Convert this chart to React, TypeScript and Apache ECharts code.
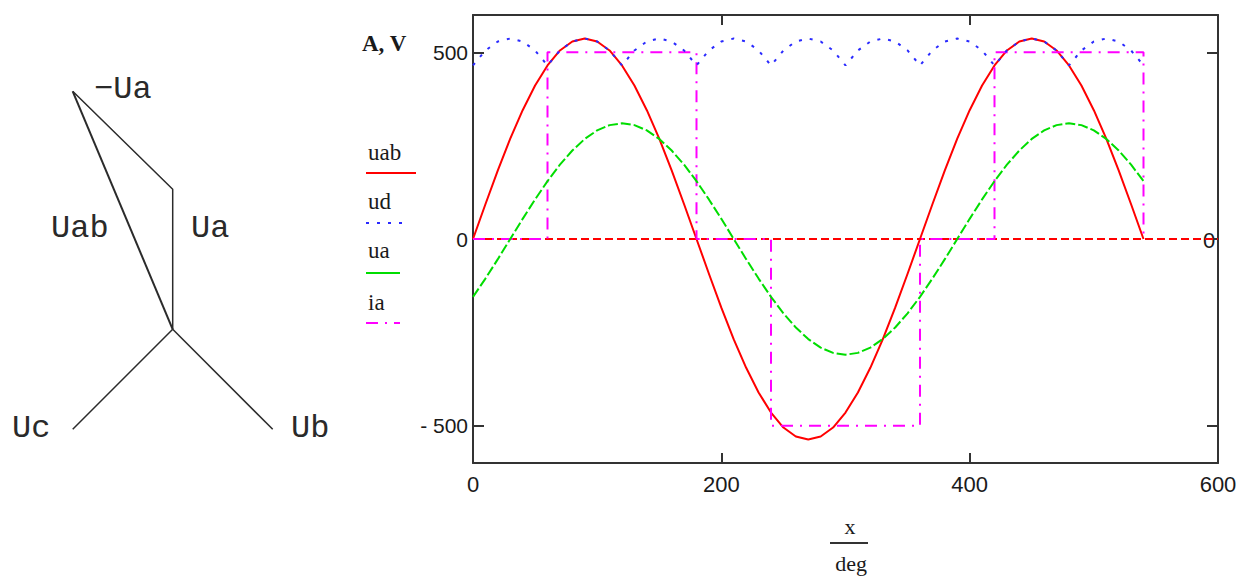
import React, { useEffect, useRef } from "react";
import * as echarts from "echarts";

// x in degrees
const deg = [0,10,20,30,40,50,60,70,80,90,100,110,120,130,140,150,160,170,180,190,200,210,220,230,240,250,260,270,280,290,300,310,320,330,340,350,360,370,380,390,400,410,420,430,440,450,460,470,480,490,500,510,520,530,540];
const uab = [0,93,184,269,345,411,465,505,529,537,529,505,465,411,345,269,184,93,0,-93,-184,-269,-345,-411,-465,-505,-529,-537,-529,-505,-465,-411,-345,-269,-184,-93,0,93,184,269,345,411,465,505,529,537,529,505,465,411,345,269,184,93,0];
const ud = [465,505,529,537,529,505,465,505,529,537,529,505,465,505,529,537,529,505,465,505,529,537,529,505,465,505,529,537,529,505,465,505,529,537,529,505,465,505,529,537,529,505,465,505,529,537,529,505,465,505,529,537,529,505,465];
const ua = [-155,-106,-54,0,54,106,155,199,237,268,291,305,310,305,291,268,237,199,155,106,54,0,-54,-106,-155,-199,-237,-268,-291,-305,-310,-305,-291,-268,-237,-199,-155,-106,-54,0,54,106,155,199,237,268,291,305,310,305,291,268,237,199,155];
const iaX = [0,60,60,180,180,240,240,360,360,420,420,540,540];
const iaY = [0,0,500,500,0,0,-500,-500,0,0,500,500,0];
const markerX = [0,600];
const markerY = [0,0];

const xTicks = [0,200,400,600];
const yTicks = [-500,0,500];

// phasor diagram segments
const uabSeg = [[0,0],[-100,238]];
const uaSeg = [[0,0],[0,140],[-100,238]];
const ucSeg = [[0,0],[-100,-100]];
const ubSeg = [[0,0],[100,-100]];

const legendItems = ["uab","ud","ua","ia"];
const colors = ["#ff0000","#2a2aff","#00dd00","#ff00ff"];

const AX = "#333333";
const LBL = "#1a1a1a";
const SERIF = "'Liberation Serif', 'Times New Roman', serif";
const MONO = "'Liberation Mono', 'Courier New', 'DejaVu Sans Mono', monospace";

export default function App() {
  const ref = useRef<HTMLDivElement>(null);
  useEffect(() => {
    const chart = echarts.init(ref.current!, null, { renderer: "svg" });
    const pair = (xs: number[], ys: number[]) => xs.map((x, i) => [x, ys[i]]);
    const legendY = [152, 201, 250, 302];
    const legendLineY = [173, 223, 273, 323];
    const dashes: any[] = [null, [3, 8], null, [12, 7, 2, 7]];
    const legendW = [50, 42, 34, 34];
    const graphic: any[] = [];
    legendItems.forEach((t, i) => {
      graphic.push({ type: "text", x: 368, y: legendY[i], style: { text: t, fill: LBL, fontSize: 23, fontFamily: SERIF, verticalAlign: "middle" } });
      graphic.push({ type: "line", shape: { x1: 366, y1: legendLineY[i], x2: 366 + legendW[i], y2: legendLineY[i] }, style: { stroke: colors[i], lineWidth: 2, lineDash: dashes[i] } });
    });
    graphic.push({ type: "text", x: 362, y: 43, style: { text: "A, V", fill: LBL, fontSize: 23, fontWeight: "bold", fontFamily: SERIF, verticalAlign: "middle" } });
    graphic.push({ type: "text", x: 850, y: 526, style: { text: "x", fill: LBL, fontSize: 22, fontFamily: SERIF, align: "center", verticalAlign: "middle" } });
    graphic.push({ type: "line", shape: { x1: 830, y1: 543, x2: 868, y2: 543 }, style: { stroke: "#333", lineWidth: 2 } });
    graphic.push({ type: "text", x: 851, y: 563, style: { text: "deg", fill: LBL, fontSize: 22, fontFamily: SERIF, align: "center", verticalAlign: "middle" } });
    graphic.push({ type: "text", x: 1209, y: 240, style: { text: "0", fill: LBL, fontSize: 22, fontFamily: "'Liberation Sans', Arial, sans-serif", align: "center", verticalAlign: "middle" } });
    const dl = [
      ["−Ua", 94, 89], ["Uab", 51, 228], ["Ua", 191, 228], ["Uc", 12, 428], ["Ub", 291, 428],
    ] as [string, number, number][];
    dl.forEach(([t, x, y]) => graphic.push({ type: "text", x, y, style: { text: t, fill: "#2a2a2a", fontSize: 32, fontFamily: MONO, verticalAlign: "middle" } }));

    const mainLine = (name: string, data: any[], color: string, type: any, z: number) => ({
      name, type: "line", data, xAxisIndex: 0, yAxisIndex: 0, symbol: "none", silent: true, z,
      lineStyle: { color, width: 2, type },
    });
    const diag = (data: number[][], width: number) => ({
      type: "line", data, xAxisIndex: 2, yAxisIndex: 2, symbol: "none", silent: true,
      lineStyle: { color: "#2b2b2b", width },
    });

    chart.setOption({
      animation: false,
      backgroundColor: "#ffffff",
      grid: [
        { left: 473, top: 15, width: 745, height: 448 },
        { left: 72.7, top: 91.3, width: 200, height: 338 },
      ],
      xAxis: [
        {
          type: "value", gridIndex: 0, min: 0, max: 600, interval: 200, position: "bottom",
          axisLine: { onZero: false, lineStyle: { color: AX, width: 2 } },
          axisTick: { inside: true, length: 10, customValues: [200, 400], lineStyle: { color: AX, width: 2 } },
          axisLabel: { customValues: xTicks, margin: 10, color: LBL, fontSize: 22, fontFamily: "Liberation Sans" },
          splitLine: { show: false },
        },
        {
          type: "value", gridIndex: 0, min: 0, max: 600, interval: 200, position: "top",
          axisLine: { onZero: false, lineStyle: { color: AX, width: 2 } },
          axisTick: { inside: true, length: 10, customValues: [200, 400], lineStyle: { color: AX, width: 2 } },
          axisLabel: { show: false },
          splitLine: { show: false },
        },
        { type: "value", gridIndex: 1, min: -100, max: 100, show: false },
      ],
      yAxis: [
        {
          type: "value", gridIndex: 0, min: -600, max: 600, position: "left",
          axisLine: { onZero: false, lineStyle: { color: AX, width: 2 } },
          axisTick: { inside: true, length: 11, customValues: yTicks, lineStyle: { color: AX, width: 2 } },
          axisLabel: {
            customValues: yTicks, margin: 5, color: LBL, fontSize: 21, fontFamily: "Liberation Sans",
            formatter: (v: number) => (v < 0 ? "- " + Math.abs(v) : String(v)),
          },
          splitLine: { show: false },
        },
        {
          type: "value", gridIndex: 0, min: -600, max: 600, position: "right",
          axisLine: { onZero: false, lineStyle: { color: AX, width: 2 } },
          axisTick: { inside: true, length: 11, customValues: yTicks, lineStyle: { color: AX, width: 2 } },
          axisLabel: { show: false },
          splitLine: { show: false },
        },
        { type: "value", gridIndex: 1, min: -100, max: 238, show: false },
      ],
      graphic,
      series: [
        mainLine("marker", pair(markerX, markerY), "#ff0000", [8, 4], 1),
        mainLine("uab", pair(deg, uab), colors[0], "solid", 2),
        mainLine("ia", pair(iaX, iaY), colors[3], [12, 7, 2, 7], 3),
        mainLine("ua", pair(deg, ua), colors[2], [10, 3], 4),
        mainLine("ud", pair(deg, ud), colors[1], [3, 8], 5),
        diag(uabSeg, 2),
        diag(uaSeg, 1.5),
        diag(ucSeg, 1.5),
        diag(ubSeg, 1.5),
      ],
    });
    return () => chart.dispose();
  }, []);
  return <div ref={ref} style={{ position: "fixed", left: 0, top: 0, width: 1245, height: 576 }} />;
}
